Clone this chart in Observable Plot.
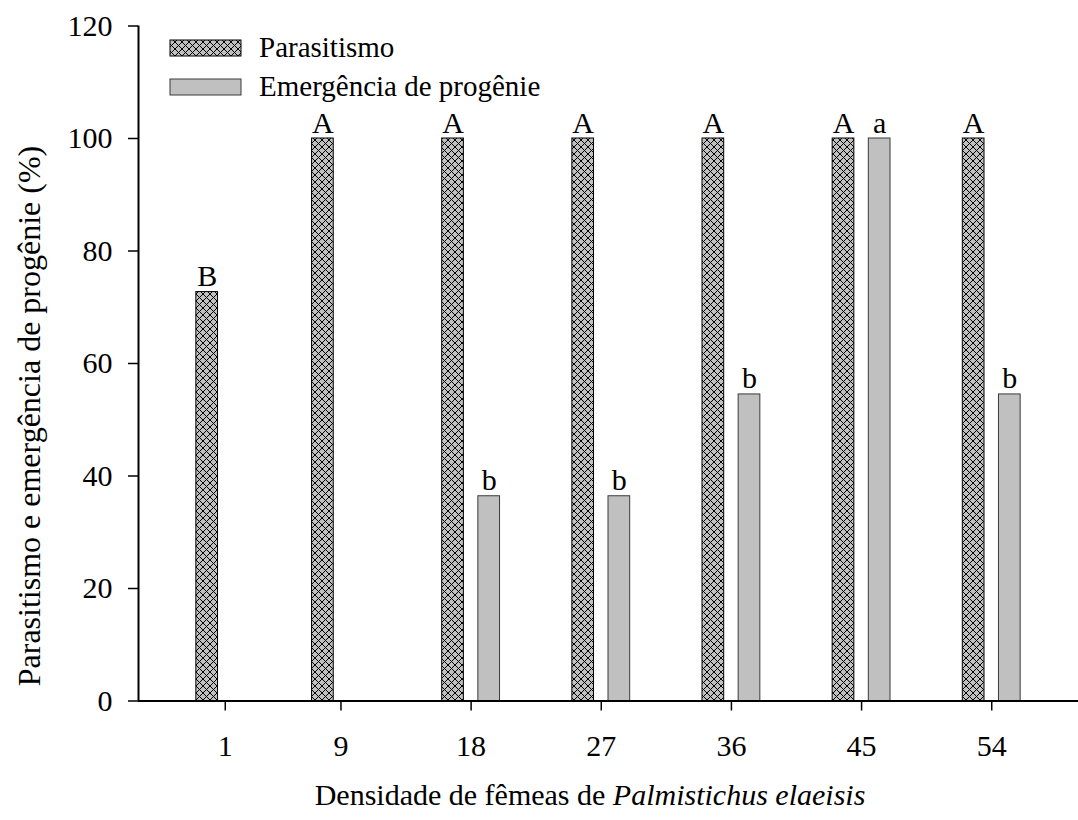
<!DOCTYPE html>
<html>
<head>
<meta charset="utf-8">
<script src="https://cdn.jsdelivr.net/npm/d3@7"></script>
<script src="https://cdn.jsdelivr.net/npm/@observablehq/plot@0.6"></script>
<style>
  body { margin: 0; background: #fff; }
  #chart { width: 1078px; height: 820px; }
</style>
</head>
<body>
<div id="chart"></div>
<script>
// Female density of Palmistichus elaeisis per host pupa
const densities = [1, 9, 18, 27, 36, 45, 54];
// Parasitism (%) and progeny emergence (%)
const parasitismo = [72.7, 100, 100, 100, 100, 100, 100];
const emergencia = [0, 0, 36.4, 36.4, 54.5, 100, 54.5];
// Mean-separation letters
const parasitismoLetters = ["B", "A", "A", "A", "A", "A", "A"];
const emergenciaLetters = ["", "", "b", "b", "b", "a", "b"];
const yTicks = [0, 20, 40, 60, 80, 100, 120];
const seriesNames = ["Parasitismo", "Emergência de progênie"];

const parRows = densities.map((d, i) => ({dens: d, value: parasitismo[i], letter: parasitismoLetters[i]}));
const emRows = densities
  .map((d, i) => ({dens: d, value: emergencia[i], letter: emergenciaLetters[i]}))
  .filter(r => r.value > 0);

const font = "'Liberation Serif', 'Times New Roman', serif";
const grey = "#c0c0c0";

const plot = Plot.plot({
  width: 1078,
  height: 820,
  marginLeft: 138,
  marginRight: 0,
  marginTop: 25.5,
  marginBottom: 119.5,
  style: {fontFamily: font, fontSize: "30px", color: "#000", background: "#fff", overflow: "visible"},
  x: {domain: [-5, 60], label: null},
  y: {domain: [0, 120], label: null},
  marks: [
    Plot.axisX({ticks: densities, tickSize: 10, tickPadding: 24, tickFormat: d => String(d), strokeWidth: 1.5, label: null}),
    Plot.axisY({ticks: yTicks, tickSize: 10, tickPadding: 16, strokeWidth: 1.5, label: null}),
    // hatched bars: parasitism, left of each density
    Plot.rectY(parRows, {x1: d => d.dens - 2, x2: d => d.dens - 0.5, y: "value", fill: "url(#hatch)", stroke: "#000", strokeWidth: 1}),
    // plain grey bars: progeny emergence, right of each density
    Plot.rectY(emRows, {x1: d => d.dens + 0.5, x2: d => d.dens + 2, y: "value", fill: grey, stroke: "#3a3a3a", strokeWidth: 1}),
    Plot.text(parRows, {x: d => d.dens - 1.25, y: "value", text: "letter", lineAnchor: "bottom", dy: -6}),
    Plot.text(emRows, {x: d => d.dens + 1.25, y: "value", text: "letter", lineAnchor: "bottom", dy: -6}),
    Plot.ruleX([-5], {strokeWidth: 2}),
    Plot.ruleY([0], {strokeWidth: 2})
  ]
});

const svg = d3.select(plot);

// crosshatch fill used by the parasitism bars
const defs = svg.insert("defs", ":first-child");
const pat = defs.append("pattern")
  .attr("id", "hatch")
  .attr("patternUnits", "userSpaceOnUse")
  .attr("width", 7)
  .attr("height", 7);
pat.append("rect").attr("width", 7).attr("height", 7).attr("fill", grey);
pat.append("path")
  .attr("d", "M-1,-1L8,8M8,-1L-1,8")
  .attr("stroke", "#000")
  .attr("stroke-width", 1)
  .attr("fill", "none");

// legend
const legend = svg.append("g")
  .attr("font-family", font)
  .attr("font-size", 29)
  .attr("text-anchor", "start");
const swatchFill = ["url(#hatch)", grey];
const swatchStroke = ["#000", "#3a3a3a"];
seriesNames.forEach((name, i) => {
  const y0 = 40 + i * 39;
  legend.append("rect")
    .attr("x", 170).attr("y", y0).attr("width", 71).attr("height", 16)
    .attr("fill", swatchFill[i]).attr("stroke", swatchStroke[i]).attr("stroke-width", 1);
  legend.append("text")
    .attr("x", 259).attr("y", y0 + 16.5)
    .text(name);
});

// axis titles
svg.append("text")
  .attr("transform", "translate(40,416) rotate(-90)")
  .attr("text-anchor", "middle")
  .attr("font-family", font)
  .attr("font-size", 32)
  .text("Parasitismo e emergência de progênie (%)");

const xt = svg.append("text")
  .attr("x", 590)
  .attr("y", 805)
  .attr("text-anchor", "middle")
  .attr("font-family", font)
  .attr("font-size", 30);
xt.append("tspan").text("Densidade de fêmeas de ");
xt.append("tspan").attr("font-style", "italic").text("Palmistichus elaeisis");

document.getElementById("chart").appendChild(plot);
</script>
</body>
</html>
